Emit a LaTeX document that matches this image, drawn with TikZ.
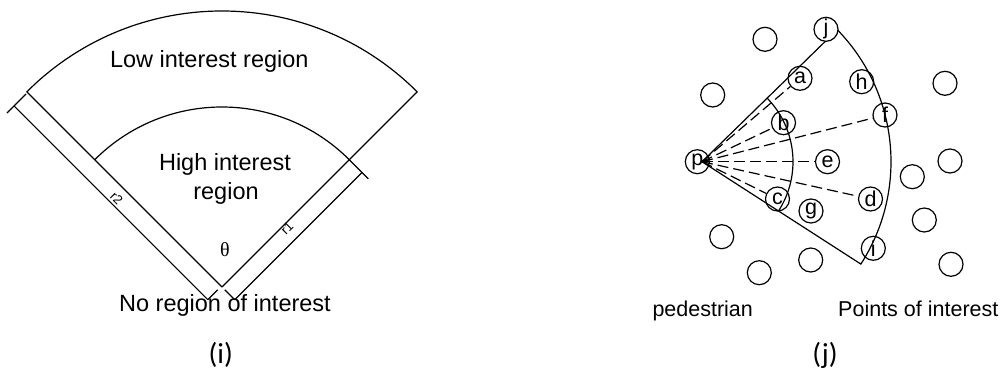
\documentclass[tikz,border=0pt]{standalone}
\usepackage{fontspec}
\setmainfont{Liberation Sans}
\newfontfamily\thetafont{Liberation Serif}
\newfontfamily\capfont{Carlito}
\usetikzlibrary{calc}
\begin{document}
\begin{tikzpicture}[x=1pt,y=1pt,line width=1.2pt,
  big/.style={font=\fontsize{23.5}{28}\selectfont, inner sep=0, anchor=base},
  mid/.style={font=\fontsize{21.5}{26}\selectfont, inner sep=0, anchor=base},
  dimlab/.style={font=\fontsize{13}{13}\selectfont, inner sep=0},
  capt/.style={font=\capfont\fontsize{29}{32}\selectfont, inner sep=0},
  poi/.style={circle, draw, minimum size=24pt, inner sep=0, font=\fontsize{21.5}{21.5}\selectfont},
  dashline/.style={dash pattern=on 11pt off 5pt}]
\useasboundingbox (0,0) rectangle (1002,-369);

% ---------- panel (i) ----------
\coordinate (O) at (222,-287);
\draw (O) -- ($(O)+(135:276)$) arc[start angle=135, end angle=45, radius=276] -- (O);
\draw ($(O)+(135:180)$) arc[start angle=135, end angle=45, radius=180];
% r2 dimension
\draw ($(O)+(225:19)+(135:1)$) -- ($(O)+(225:19)+(135:275)$);
\draw ($(O)+(135:275)+(225:2)$) -- ($(O)+(135:275)+(225:29)$);
\draw ($(O)+(135:1)+(225:5)$) -- ($(O)+(135:1)+(225:19)$);
% r1 dimension
\draw ($(O)+(-45:18)$) -- ($(O)+(-45:18)+(45:180)$);
\draw ($(O)+(45:180)$) -- ($(O)+(45:180)+(-45:27)$);
\draw ($(O)+(-45:4)$) -- ($(O)+(-45:18)$);

\node[dimlab, rotate=-45] (r2) at (116.7,-198.3) {r2};
\node[dimlab, rotate=45] (r1) at (287,-228) {r1};
\node[inner sep=0, font=\thetafont\fontsize{20}{20}\selectfont] (th) at (225,-250) {θ};
\node[big] (low) at (209.3,-67.7) {Low interest region};
\node[big] (high1) at (225,-170.7) {High interest};
\node[big] (high2) at (226,-199.3) {region};
\node[big] (none) at (225,-311.7) {No region of interest};
\node[capt] (capi) at (220.7,-355) {(i)};

% ---------- panel (j) ----------
\coordinate (P0) at (702,-161.7);
\draw (P0) -- ($(P0)+(44.3:189)$) arc[start angle=44.3, end angle=-32.8, radius=189] -- (P0);
\draw ($(P0)+(44.3:91)$) arc[start angle=44.3, end angle=-32.8, radius=91];

\node[poi] (p) at (697.3,-161.7) {p};
\node[poi] (a) at (800,-78.3) {a};
\node[poi] (b) at (783.5,-122.7) {b};
\node[poi] (c) at (777.5,-199) {c};
\node[poi] (d) at (870.5,-199) {d};
\node[poi] (e) at (827.5,-161.7) {e};
\node[poi] (f) at (885,-115) {f};
\node[poi] (g) at (811,-211) {g};
\node[poi] (h) at (861.7,-81.7) {h};
\node[poi] (i) at (873.3,-248.3) {i};
\node[poi, fill=white] (j) at (826,-29.3) {j};
\node[poi] (n1) at (765,-39.3) {};
\node[poi] (n2) at (945,-83.3) {};
\node[poi] (n3) at (712.7,-95) {};
\node[poi] (n4) at (950,-161) {};
\node[poi] (n5) at (912.3,-176.7) {};
\node[poi] (n6) at (924.3,-220) {};
\node[poi] (n7) at (721.7,-236.7) {};
\node[poi] (n8) at (810.7,-260) {};
\node[poi] (n9) at (759.3,-272.7) {};
\node[poi] (n10) at (951,-264.3) {};

\foreach \t in {a,b,f,e,d,c} \draw[dashline] (P0) -- (\t);

\node[mid] (ped) at (702.7,-316) {pedestrian};
\node[mid] (pts) at (918.3,-316) {Points of interest};
\node[capt] (capj) at (825,-355) {(j)};
\end{tikzpicture}
\end{document}
